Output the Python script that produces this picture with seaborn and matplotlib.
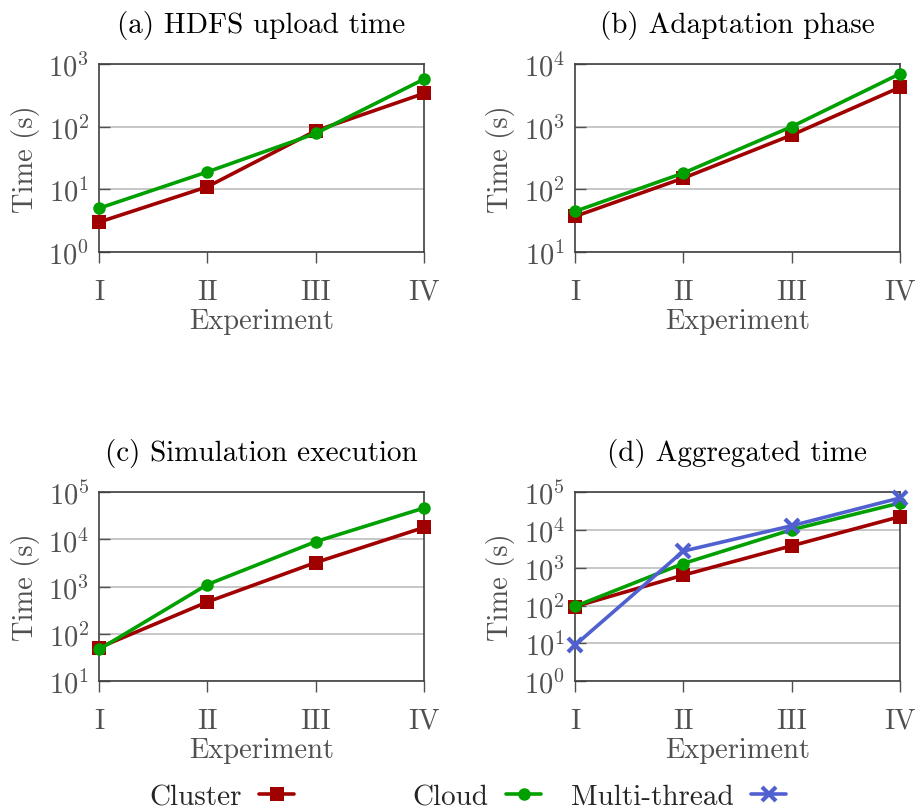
import numpy as np
import pandas as pd
import matplotlib
matplotlib.use("Agg")
import matplotlib.pyplot as plt
import seaborn as sns

# Experiments on the x axis
experiments = ["I", "II", "III", "IV"]

# (a) HDFS upload time
hdfs_cluster = [3, 11, 86, 340]
hdfs_cloud = [5, 19, 78, 575]

# (b) Adaptation phase
adapt_cluster = [37, 151, 735, 4250]
adapt_cloud = [44.5, 182, 1000, 7000]

# (c) Simulation execution
sim_cluster = [51, 475, 3250, 18000]
sim_cloud = [47, 1110, 9000, 46500]

# (d) Aggregated time
agg_cluster = [94, 640, 3830, 22600]
agg_cloud = [95, 1300, 10200, 52000]
agg_multithread = [8.9, 2770, 13000, 70700]

sns.set_theme(style="white")
plt.rcParams["font.family"] = ["serif"]
plt.rcParams["font.serif"] = ["cmr10", "DejaVu Serif"]
plt.rcParams["mathtext.fontset"] = "cm"
plt.rcParams["axes.formatter.use_mathtext"] = True

colors = {"Cluster": "#a00000", "Cloud": "#00a000", "Multi-thread": "#5060d0"}
markers = {"Cluster": "s", "Cloud": "o", "Multi-thread": "x"}
sizes = {"Cluster": 10, "Cloud": 9, "Multi-thread": 10}
gray = "#505050"
fs_tick = 20.5
fs_title = 21
fs_label = 20.5

panels = [
    ("(a) HDFS upload time", {"Cluster": hdfs_cluster, "Cloud": hdfs_cloud}, (1e0, 1e3)),
    ("(b) Adaptation phase", {"Cluster": adapt_cluster, "Cloud": adapt_cloud}, (1e1, 1e4)),
    ("(c) Simulation execution", {"Cluster": sim_cluster, "Cloud": sim_cloud}, (1e1, 1e5)),
    ("(d) Aggregated time", {"Cluster": agg_cluster, "Cloud": agg_cloud,
                             "Multi-thread": agg_multithread}, (1e0, 1e5)),
]

positions = [
    [0.108, 0.6884, 0.3544, 0.2315],
    [0.627, 0.6884, 0.3544, 0.2315],
    [0.108, 0.160, 0.3544, 0.2325],
    [0.627, 0.160, 0.3544, 0.2325],
]

fig = plt.figure(figsize=(9.17, 8.12), dpi=100)
handles = {}

for (title, series, ylim), pos in zip(panels, positions):
    ax = fig.add_axes(pos)
    rows = []
    for name, vals in series.items():
        for i, v in enumerate(vals):
            rows.append({"x": i, "Time": v, "System": name})
    df = pd.DataFrame(rows)
    for name in series:
        sub = df[df["System"] == name]
        mew = 3 if name == "Multi-thread" else 0
        sns.lineplot(data=sub, x="x", y="Time", ax=ax, color=colors[name],
                     marker=markers[name], markersize=sizes[name], linewidth=2.6,
                     markeredgewidth=mew, markeredgecolor=colors[name],
                     label=name, legend=False, clip_on=False, zorder=3)
        handles[name] = ax.lines[-1]
    ax.set_yscale("log")
    ax.set_ylim(*ylim)
    ax.set_xlim(0, 3)
    ax.set_xticks(range(len(experiments)))
    ax.set_xticklabels(experiments)
    ax.yaxis.set_major_locator(matplotlib.ticker.LogLocator(base=10, numticks=10))
    ax.yaxis.set_minor_locator(matplotlib.ticker.NullLocator())
    ax.grid(axis="y", which="major", color="#b8b8b8", linewidth=1.1)
    ax.grid(axis="x", visible=False)
    ax.tick_params(axis="y", direction="in", length=8, width=1.0, color=gray,
                   labelsize=fs_tick, labelcolor=gray, pad=7, left=True)
    ax.tick_params(axis="x", direction="out", length=8, width=1.0, color=gray,
                   labelsize=fs_tick, labelcolor=gray, pad=11, bottom=True)
    for sp in ax.spines.values():
        sp.set_color("#404040")
        sp.set_linewidth(1.2)
    ax.set_title(title, fontsize=fs_title, color="black", pad=23)
    ax.set_xlabel("Experiment", fontsize=fs_label, color=gray, labelpad=2)
    ax.set_ylabel("Time (s)", fontsize=fs_label, color=gray)
    ax.yaxis.set_label_coords(-0.183, 0.5)

legend_spots = [("Cluster", 0.242), ("Cloud", 0.52), ("Multi-thread", 0.74)]
for name, xc in legend_spots:
    fig.legend([handles[name]], [name], loc="center", bbox_to_anchor=(xc, 0.017),
               frameon=False, markerfirst=False, fontsize=fs_title, handlelength=1.2,
               handletextpad=0.6, borderpad=0)

fig.savefig("out.png", dpi=100)
